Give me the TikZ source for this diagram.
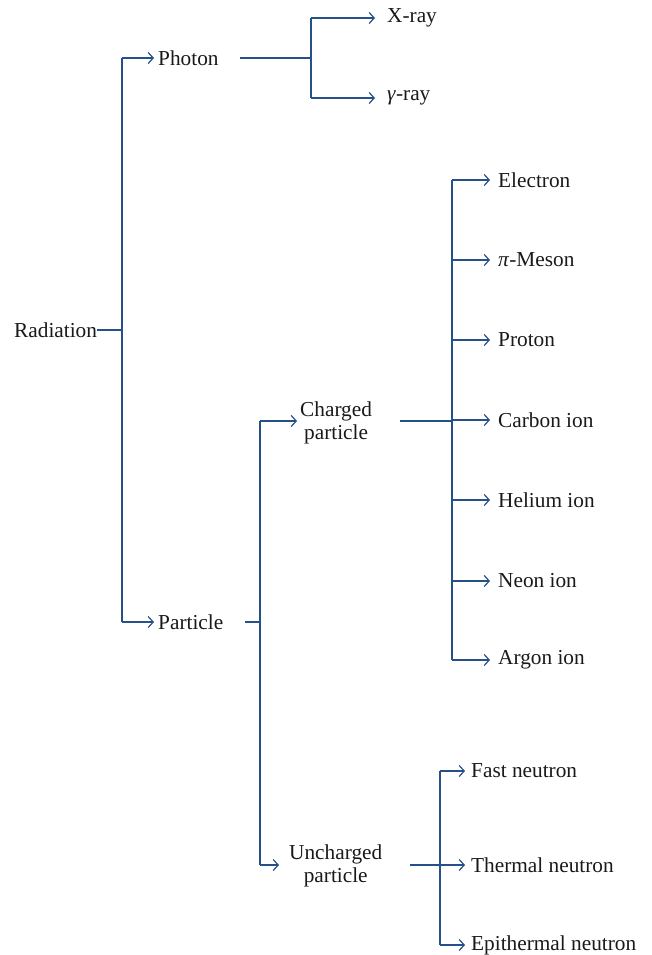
\documentclass[tikz,border=0pt]{standalone}
\usepackage{fontspec}
\setmainfont{Liberation Serif}
\usetikzlibrary{arrows.meta}
\definecolor{linkblue}{RGB}{38,80,136}
\definecolor{txt}{RGB}{25,25,25}
\tikzset{
  lbl/.style={inner sep=0pt, anchor=west, text=txt, font=\fontsize{21.3}{23.5}\selectfont},
  lbl2/.style={lbl, align=center},
  ln/.style={draw=linkblue, line width=1.2pt},
  arr/.style={ln, -{Straight Barb[length=5pt,width=11pt,line width=1.2pt]}}
}
\begin{document}
\begin{tikzpicture}[x=1pt,y=-1pt]
\useasboundingbox (0,0) rectangle (651,955);
% nodes
\node[lbl] (rad) at (14,330) {Radiation};
\node[lbl] (pho) at (158,58) {Photon};
\node[lbl] (par) at (158,622) {Particle};
\node[lbl] (xray) at (387,18) {X-ray};
\node[lbl] (gray) at (387,98) {\textit{γ}-ray};
\node[lbl2] (chg) at (300,423) {Charged\\particle};
\node[lbl2] (unc) at (289,866) {Uncharged\\particle};
\node[lbl] (ele) at (498,180) {Electron};
\node[lbl] (pim) at (498,260) {\textit{π}-Meson};
\node[lbl] (pro) at (498,340) {Proton};
\node[lbl] (car) at (498,420) {Carbon ion};
\node[lbl] (hel) at (498,500) {Helium ion};
\node[lbl] (neo) at (498,581) {Neon ion};
\node[lbl] (arg) at (498,660) {Argon ion};
\node[lbl] (fas) at (471,771) {Fast neutron};
\node[lbl] (the) at (471,865) {Thermal neutron};
\node[lbl] (epi) at (471,945) {Epithermal neutron};
% spine coordinates
\coordinate (s1a) at (122,58);  \coordinate (s1b) at (122,622);
\coordinate (s2a) at (311,18);  \coordinate (s2b) at (311,98);
\coordinate (s3a) at (260,421); \coordinate (s3b) at (260,865);
\coordinate (s4a) at (452,180); \coordinate (s4b) at (452,660);
\coordinate (s5a) at (440,771); \coordinate (s5b) at (440,945);
\coordinate (phoout) at (240,58);
\coordinate (parout) at (245,622);
\coordinate (chgout) at (400,421);
\coordinate (uncout) at (410,865);
% connectors
\draw[ln] (rad.east) -- (rad.east -| s1a);
\draw[ln] (s1a) -- (s1b);
\draw[arr] (s1a) -- ([xshift=-4pt]pho.west);
\draw[arr] (s1b) -- ([xshift=-4pt]par.west);
\draw[ln] (phoout) -- (phoout -| s2a);
\draw[ln] (s2a) -- (s2b);
\draw[arr] (s2a) -- ([xshift=-12pt]xray.west |- s2a);
\draw[arr] (s2b) -- ([xshift=-12pt]gray.west |- s2b);
\draw[ln] (parout) -- (parout -| s3a);
\draw[ln] (s3a) -- (s3b);
\draw[arr] (s3a) -- ([xshift=-3pt]chg.west |- s3a);
\draw[arr] (s3b) -- ([xshift=-10pt]unc.west |- s3b);
\draw[ln] (chgout) -- (chgout -| s4a);
\draw[ln] (s4a) -- (s4b);
\foreach \n in {ele,pim,pro,car,hel,neo,arg}{
  \draw[arr] (\n.west -| s4a) -- ([xshift=-8pt]\n.west);
}
\draw[ln] (uncout) -- (uncout -| s5a);
\draw[ln] (s5a) -- (s5b);
\foreach \n in {fas,the,epi}{
  \draw[arr] (\n.west -| s5a) -- ([xshift=-6pt]\n.west);
}
\end{tikzpicture}
\end{document}
